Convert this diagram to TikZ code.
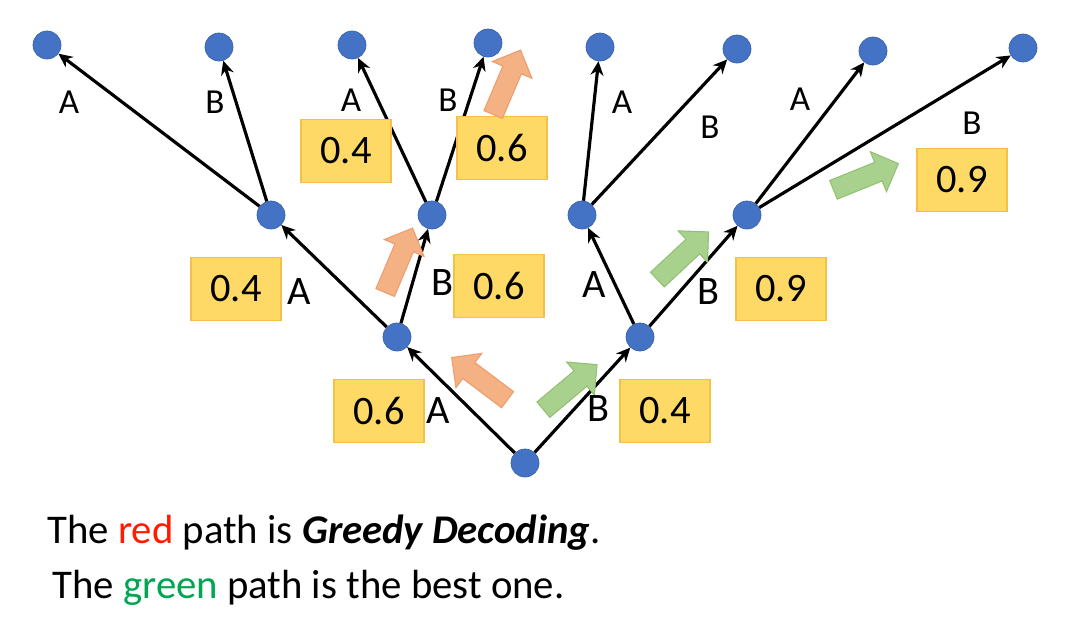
\documentclass[tikz,border=0pt]{standalone}
\usepackage{fontspec}
\setmainfont{Carlito}
\usepackage{xcolor}
\usetikzlibrary{arrows.meta,shapes.arrows}
\definecolor{dotblue}{HTML}{4472C4}
\definecolor{dotedge}{HTML}{3A62AD}
\definecolor{boxfill}{HTML}{FFD966}
\definecolor{boxedge}{HTML}{F4C04A}
\definecolor{greedyfill}{HTML}{F4B183}
\definecolor{greedyedge}{HTML}{EE9C6C}
\definecolor{bestfill}{HTML}{A9D18E}
\definecolor{bestedge}{HTML}{93C073}
\definecolor{txtred}{HTML}{FF1A00}
\definecolor{txtgreen}{HTML}{00A651}

\begin{document}
\begin{tikzpicture}[x=0.02cm, y=-0.02cm, >={Stealth[length=2.8mm, width=2.6mm]},
  dot/.style={circle, fill=dotblue, draw=dotedge, line width=0.4pt, minimum size=5.6mm, inner sep=0pt},
  edge/.style={->, line width=1.8pt},
  prob/.style={draw=boxedge, fill=boxfill, line width=0.6pt, minimum width=18mm, minimum height=12.6mm, font=\fontsize{23}{27}\selectfont},
  lab/.style={font=\fontsize{23}{27}\selectfont, inner sep=0pt},
  toplab/.style={font=\fontsize{20}{24}\selectfont, inner sep=0pt},
  fat/.style={single arrow, inner xsep=0pt, inner ysep=1.9mm, single arrow head extend=2.3mm, minimum height=14mm, anchor=tail, line width=0.6pt},
  greedy/.style={fat, fill=greedyfill, draw=greedyedge},
  best/.style={fat, fill=bestfill, draw=bestedge},
  caption/.style={anchor=base west, inner sep=0pt, font=\fontsize{23.2}{28}\selectfont}]
\useasboundingbox (0,0) rectangle (1073,623);
% tree nodes
\node[dot] (root) at (525,463) {};
\node[dot] (la) at (397,337) {};
\node[dot] (lb) at (640,337) {};
\node[dot] (laa) at (271,215) {};
\node[dot] (lab) at (432,215) {};
\node[dot] (lba) at (582,215) {};
\node[dot] (lbb) at (747,215) {};
\node[dot] (laaa) at (47,45) {};
\node[dot] (laab) at (219,47) {};
\node[dot] (laba) at (352,45) {};
\node[dot] (labb) at (488,43) {};
\node[dot] (lbaa) at (600,47) {};
\node[dot] (lbab) at (737,49) {};
\node[dot] (lbba) at (873,51) {};
\node[dot] (lbbb) at (1023,48) {};
% branches
\draw[edge] (root) -- (la);
\draw[edge] (root) -- (lb);
\draw[edge] (la) -- (laa);
\draw[edge] (la) -- (lab);
\draw[edge] (lb) -- (lba);
\draw[edge] (lb) -- (lbb);
\draw[edge] (laa) -- (laaa);
\draw[edge] (laa) -- (laab);
\draw[edge] (lab) -- (laba);
\draw[edge] (lab) -- (labb);
\draw[edge] (lba) -- (lbaa);
\draw[edge] (lba) -- (lbab);
\draw[edge] (lbb) -- (lbba);
\draw[edge] (lbb) -- (lbbb);
% probabilities
\node[prob] (pa) at (379,411) {0.6};
\node[prob] (pb) at (665,411) {0.4};
\node[prob] (paa) at (236,289) {0.4};
\node[prob] (pab) at (499,286) {0.6};
\node[prob] (pbb) at (781,289) {0.9};
\node[prob] (paba) at (346,151) {0.4};
\node[prob] (pabb) at (502,148) {0.6};
\node[prob] (pbbb) at (962,180) {0.9};
% greedy (red) and best (green) paths
\node[greedy, rotate=143] (g1) at (508,400) {};
\node[greedy, rotate=67] (g2) at (385,293) {};
\node[greedy, rotate=67] (g3) at (493,115) {};
\node[best, rotate=40] (b1) at (543,410) {};
\node[best, rotate=43] (b2) at (657,280) {};
\node[best, rotate=22] (b3) at (833,190) {};
% branch labels
\node[lab] (ta) at (438,411) {A};
\node[lab] (tb) at (598,409) {B};
\node[lab] (taa) at (299,292) {A};
\node[lab] (tab) at (442,283) {B};
\node[lab] (tba) at (594,285) {A};
\node[lab] (tbb) at (708,292) {B};
\node[toplab] (taaa) at (69,102) {A};
\node[toplab] (taab) at (215,102) {B};
\node[toplab] (taba) at (351,100) {A};
\node[toplab] (tabb) at (448,100) {B};
\node[toplab] (tbaa) at (622,102) {A};
\node[toplab] (tbab) at (710,127) {B};
\node[toplab] (tbba) at (800,99) {A};
\node[toplab] (tbbb) at (972,123) {B};
% caption
\node[caption] (line1) at (47,543) {The \textcolor{txtred}{red} path is \textbf{\textit{Greedy Decoding}}.};
\node[caption] (line2) at (52,598) {The \textcolor{txtgreen}{green} path is the best one.};
\end{tikzpicture}
\end{document}
